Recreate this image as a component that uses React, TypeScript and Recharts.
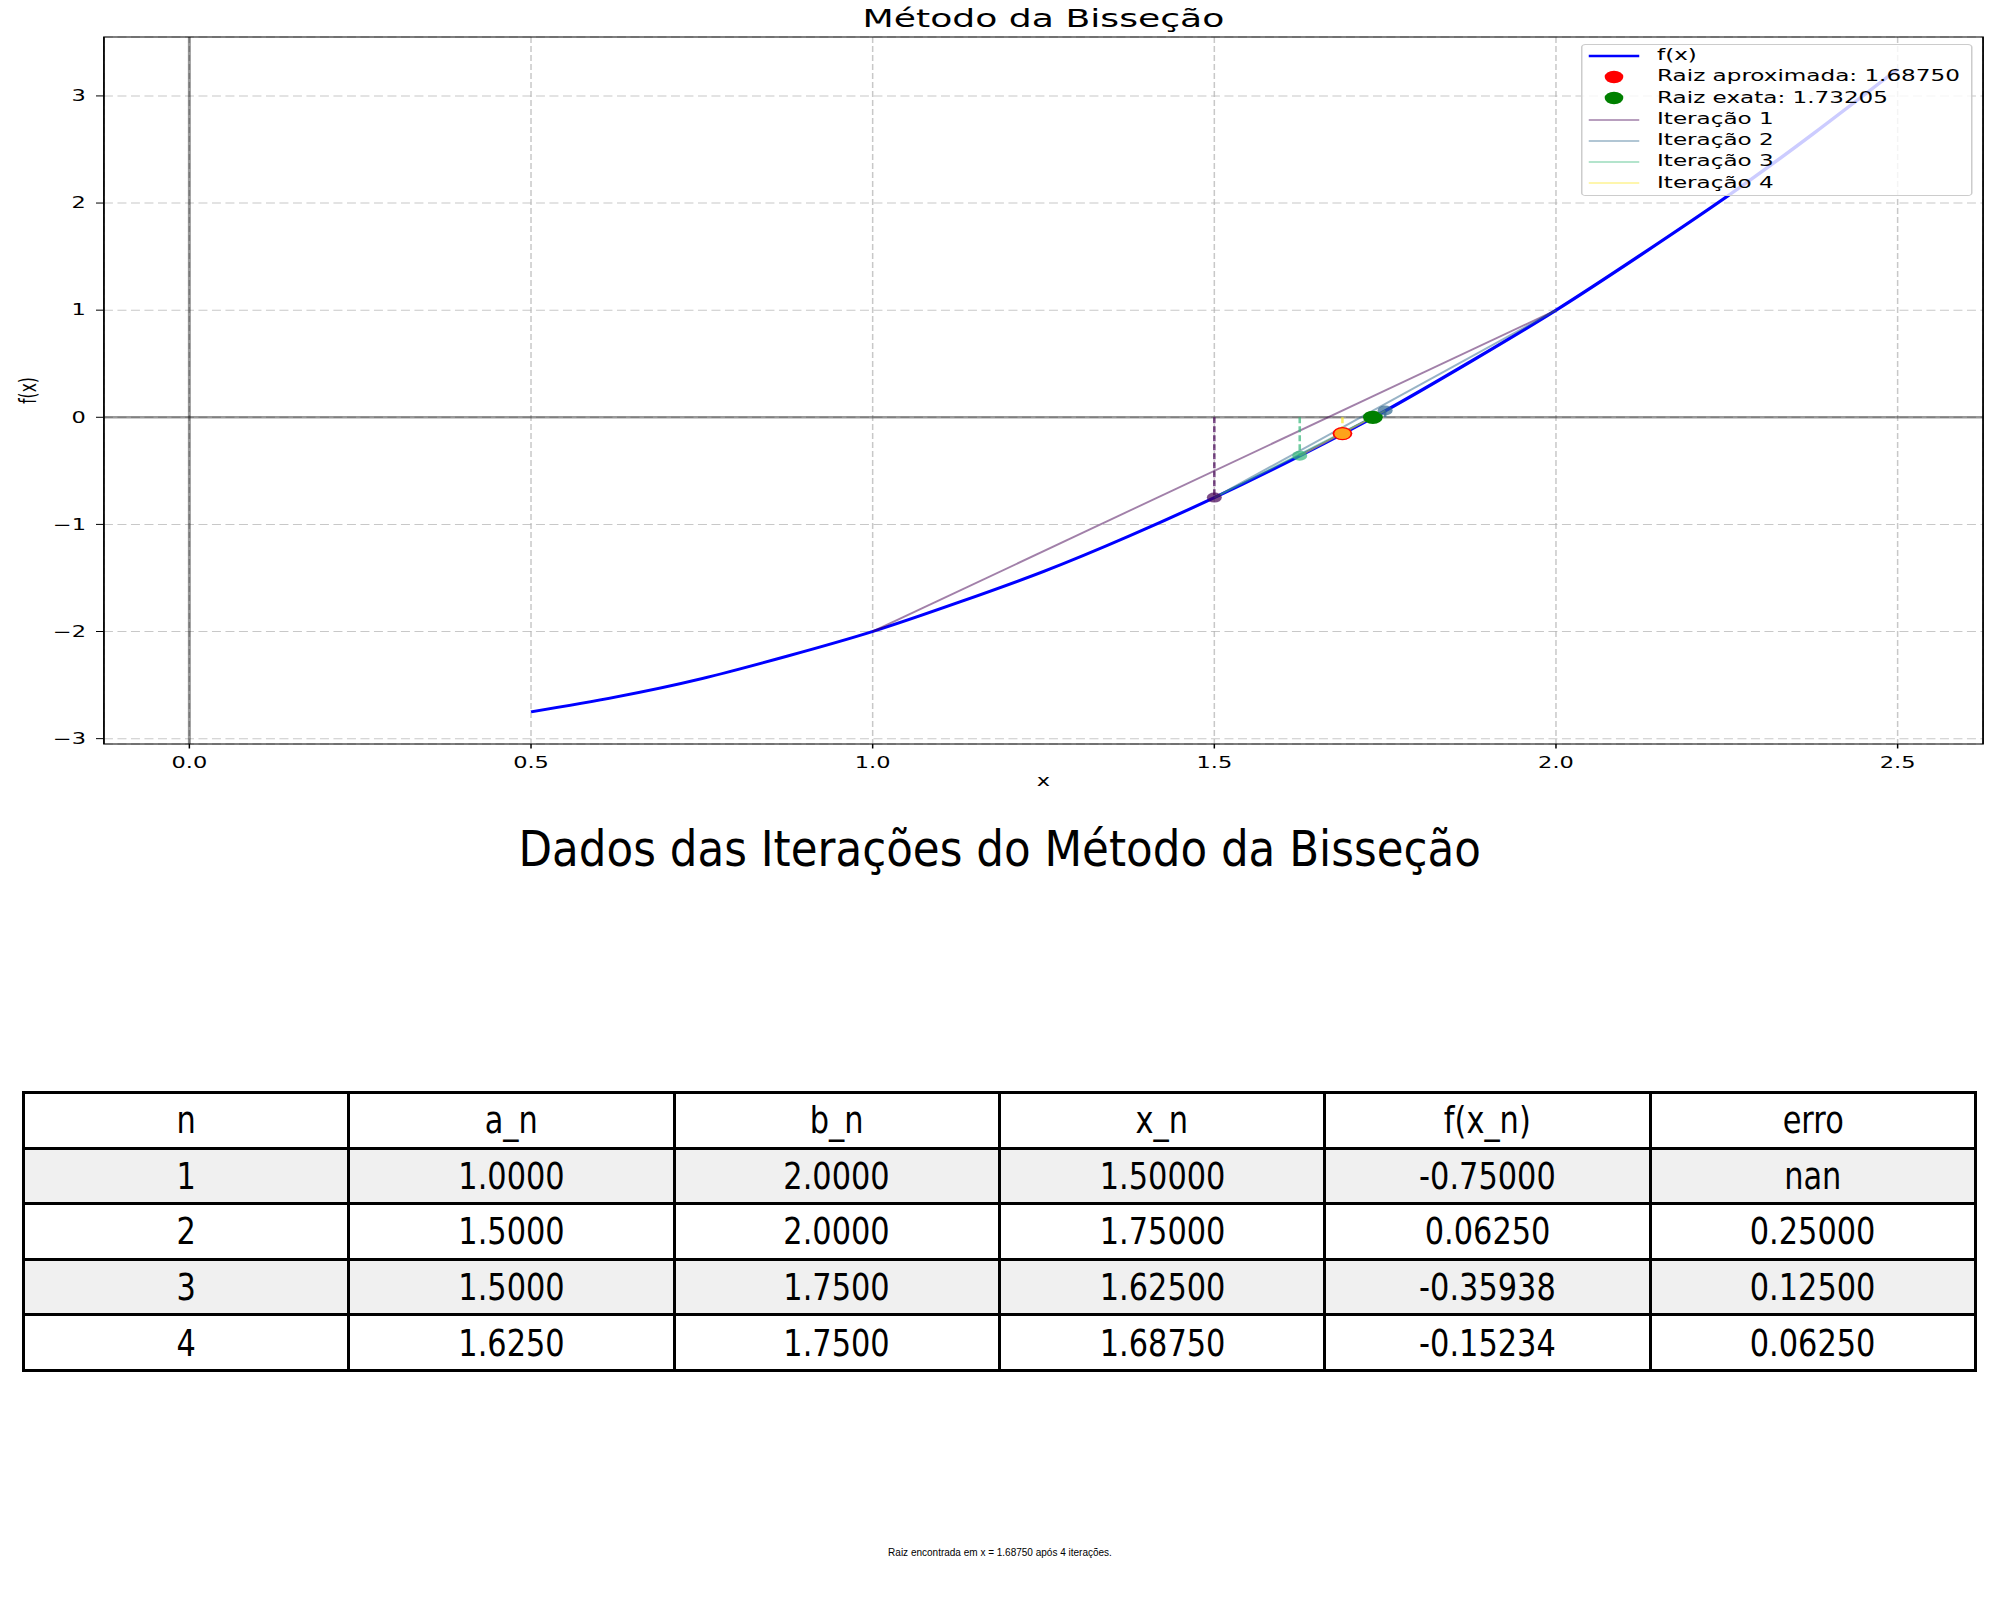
import React from 'react';
import {
  ComposedChart,
  Line,
  Scatter,
  XAxis,
  YAxis,
  CartesianGrid,
  ReferenceLine,
  ReferenceArea,
  Legend,
} from 'recharts';

// curva f(x)
const curveX = [0.5, 0.625, 0.75, 0.875, 1.0, 1.125, 1.25, 1.375, 1.5, 1.625, 1.75, 1.875, 2.0, 2.125, 2.25, 2.375, 2.5];
const curveY = [-2.75, -2.61, -2.44, -2.23, -2.0, -1.73, -1.44, -1.11, -0.75, -0.36, 0.06, 0.52, 1.0, 1.52, 2.06, 2.64, 3.25];

// iterações
const iterN = [1, 2, 3, 4];
const iterA = [1.0, 1.5, 1.5, 1.625];
const iterB = [2.0, 2.0, 1.75, 1.75];
const iterFa = [-2.0, -0.75, -0.75, -0.359375];
const iterFb = [1.0, 1.0, 0.0625, 0.0625];
const iterX = [1.5, 1.75, 1.625, 1.6875];
const iterFx = [-0.75, 0.0625, -0.359375, -0.15234375];
const iterErro = [NaN, 0.25, 0.125, 0.0625];
const iterColors = ['#440154', '#31688e', '#35b779', '#fde725'];

const rootApproxX = 1.6875;
const rootApproxY = -0.15234375;
const rootExactX = 1.73205;
const rootExactY = 0;

const xTicks = [0, 0.5, 1, 1.5, 2, 2.5];
const yTicks = [-3, -2, -1, 0, 1, 2, 3];
const xDomain = [-0.125, 2.625];
const yDomain = [-3.05, 3.55];

const tableHeaders = ['n', 'a_n', 'b_n', 'x_n', 'f(x_n)', 'erro'];

const FONT = "'DejaVu Sans', sans-serif";
const STRETCH = 1.5;
const CW = 2000 / STRETCH;
const CH = 800;

const curveData = curveX.map((x, i) => ({ x, y: curveY[i] }));
const secantData = iterN.map((_, i) => [
  { x: iterA[i], y: iterFa[i] },
  { x: iterB[i], y: iterFb[i] },
]);
const dropData = iterN.map((_, i) => [
  { x: iterX[i], y: 0 },
  { x: iterX[i], y: iterFx[i] },
]);
const dotData = iterN.map((_, i) => [{ x: iterX[i], y: iterFx[i] }]);

const fmtY = (v: number) => (v < 0 ? '\u2212' + Math.abs(v) : String(v));
const tickStyle = { fontSize: 15, fill: '#000', fontFamily: FONT };

function LegendBox() {
  const rows = [
    { label: 'f(x)', kind: 'line', color: '#0000ff', w: 2.5, op: 1 },
    { label: `Raiz aproximada: ${rootApproxX.toFixed(5)}`, kind: 'dot', color: '#ff0000', w: 0, op: 1 },
    { label: `Raiz exata: ${rootExactX.toFixed(5)}`, kind: 'dot', color: '#008000', w: 0, op: 1 },
    ...iterN.map((n, i) => ({ label: `Iteração ${n}`, kind: 'line', color: iterColors[i], w: 1.7, op: 0.5 })),
  ];
  return (
    <div
      style={{
        width: 260.7,
        height: 152,
        boxSizing: 'border-box',
        background: 'rgba(255,255,255,0.8)',
        border: '1px solid #cccccc',
        borderRadius: 3,
      }}
    >
      {rows.map((r) => (
        <div key={r.label} style={{ display: 'flex', alignItems: 'center', height: 21.3 }}>
          <svg width={34} height={14} style={{ marginLeft: 3.7, flex: 'none' }}>
            {r.kind === 'line' ? (
              <line x1={0} x2={34} y1={7} y2={7} stroke={r.color} strokeWidth={r.w} strokeOpacity={r.op} />
            ) : (
              <circle cx={17} cy={7} r={6.2} fill={r.color} />
            )}
          </svg>
          <span style={{ marginLeft: 12, fontSize: 15.4, fontFamily: FONT, color: '#000', whiteSpace: 'nowrap', lineHeight: 1 }}>
            {r.label}
          </span>
        </div>
      ))}
    </div>
  );
}

const dot = (r: number, color: string, op: number) => (p: any) =>
  <circle cx={p.cx} cy={p.cy} r={r} fill={color} fillOpacity={op} />;

export default function App() {
  const cellBase: React.CSSProperties = {
    border: '3px solid #000',
    padding: 0,
    textAlign: 'center',
    verticalAlign: 'middle',
    fontSize: 38,
    fontFamily: FONT,
    lineHeight: 1,
    color: '#000',
  };
  const squeeze = (s: string) => (
    <span style={{ display: 'inline-block', transform: 'scaleX(0.8)' }}>{s}</span>
  );

  return (
    <div style={{ position: 'relative', width: 2000, height: 1600, background: '#fff', fontFamily: FONT, overflow: 'hidden' }}>
      <style>{'body{margin:0}'}</style>

      <div style={{ position: 'absolute', left: 0, top: 0, width: CW, height: CH, transform: `scaleX(${STRETCH})`, transformOrigin: '0 0' }}>
        <ComposedChart width={CW} height={CH} margin={{ top: 37, right: 11.3, bottom: 0, left: 0 }}>
          <CartesianGrid stroke="#b0b0b0" strokeOpacity={0.7} strokeDasharray="6 3" />
          <XAxis
            type="number"
            dataKey="x"
            domain={xDomain}
            ticks={xTicks}
            interval={0}
            allowDataOverflow
            height={56}
            axisLine={false}
            tickLine={{ stroke: '#000' }}
            tickSize={4.5}
            tickMargin={8.5}
            tick={tickStyle}
            tickFormatter={(v: number) => v.toFixed(1)}
            label={{ value: 'x', position: 'insideBottom', offset: 14, fontSize: 15, fill: '#000', fontFamily: FONT }}
          />
          <YAxis
            type="number"
            dataKey="y"
            domain={yDomain}
            ticks={yTicks}
            interval={0}
            allowDataOverflow
            width={69.3}
            axisLine={false}
            tickLine={{ stroke: '#000' }}
            tickSize={5.3}
            tickMargin={6.7}
            tick={tickStyle}
            tickFormatter={fmtY}
            label={{
              value: 'f(x)',
              angle: -90,
              position: 'insideLeft',
              offset: 18.7,
              fontSize: 15.5,
              fill: '#000',
              fontFamily: FONT,
              style: { textAnchor: 'middle' },
            }}
          />
          <ReferenceLine y={0} stroke="#000" strokeOpacity={0.4} strokeWidth={2.5} />
          <ReferenceLine x={0} stroke="#000" strokeOpacity={0.4} strokeWidth={2} />
          <ReferenceArea
            x1={xDomain[0]}
            x2={xDomain[1]}
            y1={yDomain[0]}
            y2={yDomain[1]}
            fill="none"
            fillOpacity={0}
            stroke="#000"
            strokeWidth={1.2}
            label={{ value: 'Método da Bisseção', position: 'top', offset: 10, fontSize: 24.1, fill: '#000', fontFamily: FONT }}
          />

          <Line data={curveData} dataKey="y" type="natural" stroke="#0000ff" strokeWidth={2.8} dot={false} activeDot={false} isAnimationActive={false} />
          <Scatter data={[{ x: rootApproxX, y: rootApproxY }]} dataKey="y" shape={dot(6.6, '#ff0000', 1)} isAnimationActive={false} />
          <Scatter data={[{ x: rootExactX, y: rootExactY }]} dataKey="y" shape={dot(6.6, '#008000', 1)} isAnimationActive={false} />

          {iterN.map((n, i) => (
            <Line
              key={`sec${n}`}
              data={secantData[i]}
              dataKey="y"
              type="linear"
              stroke={iterColors[i]}
              strokeOpacity={0.5}
              strokeWidth={1.7}
              dot={false}
              activeDot={false}
              isAnimationActive={false}
            />
          ))}
          {iterN.map((n, i) => (
            <Line
              key={`drop${n}`}
              data={dropData[i]}
              dataKey="y"
              type="linear"
              stroke={iterColors[i]}
              strokeOpacity={0.7}
              strokeWidth={1.7}
              strokeDasharray="6 3"
              dot={false}
              activeDot={false}
              isAnimationActive={false}
            />
          ))}
          {iterN.map((n, i) => (
            <Scatter
              key={`pt${n}`}
              data={dotData[i]}
              dataKey="y"
              shape={dot(i === 3 ? 5.4 : 5, iterColors[i], 0.7)}
              isAnimationActive={false}
            />
          ))}

          <Legend
            layout="horizontal"
            verticalAlign="middle"
            align="center"
            wrapperStyle={{ top: 44, left: 1054, width: 260.7, height: 152 }}
            content={() => <LegendBox />}
          />
        </ComposedChart>
      </div>

      <div style={{ position: 'absolute', left: 0, top: 825, width: 2000, textAlign: 'center', fontSize: 49, lineHeight: '49px', color: '#000' }}>
        <span style={{ display: 'inline-block', transform: 'scaleX(0.89)' }}>Dados das Iterações do Método da Bisseção</span>
      </div>

      <table
        style={{
          position: 'absolute',
          left: 22,
          top: 1091,
          width: 1955,
          borderCollapse: 'collapse',
          tableLayout: 'fixed',
        }}
      >
        <tbody>
          <tr style={{ height: 55.6 }}>
            {tableHeaders.map((h) => (
              <td key={h} style={{ ...cellBase, background: '#fff' }}>{squeeze(h)}</td>
            ))}
          </tr>
          {iterN.map((n, i) => {
            const bg = i % 2 === 0 ? '#f0f0f0' : '#fff';
            const cells = [
              String(n),
              iterA[i].toFixed(4),
              iterB[i].toFixed(4),
              iterX[i].toFixed(5),
              iterFx[i].toFixed(5),
              isNaN(iterErro[i]) ? 'nan' : iterErro[i].toFixed(5),
            ];
            return (
              <tr key={n} style={{ height: 55.6 }}>
                {cells.map((c, j) => (
                  <td key={j} style={{ ...cellBase, background: bg }}>{squeeze(c)}</td>
                ))}
              </tr>
            );
          })}
        </tbody>
      </table>

      <div
        style={{
          position: 'absolute',
          left: 0,
          top: 1548,
          width: 2000,
          textAlign: 'center',
          fontSize: 10,
          lineHeight: '10px',
          fontFamily: "'Liberation Sans', sans-serif",
          color: '#000',
        }}
      >
        Raiz encontrada em x = {rootApproxX.toFixed(5)} após {iterN.length} iterações.
      </div>
    </div>
  );
}
